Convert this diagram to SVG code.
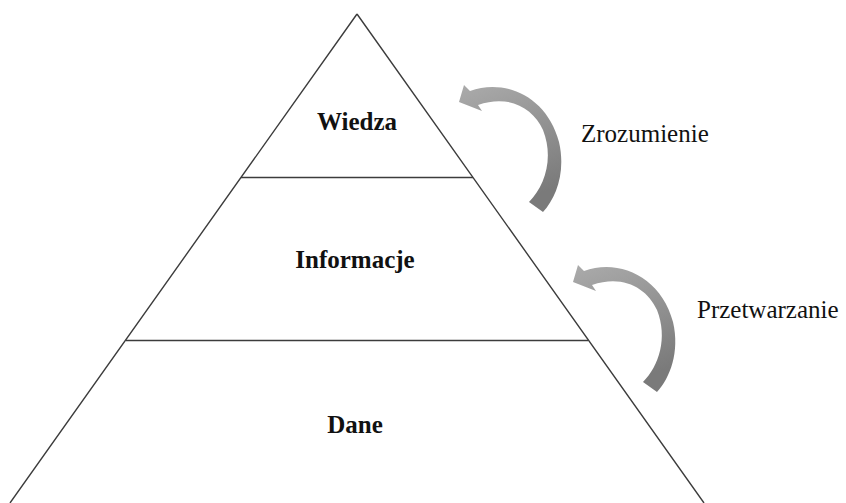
<svg xmlns="http://www.w3.org/2000/svg" width="846" height="503" viewBox="0 0 846 503">
  <style>
    .edge { fill: none; stroke: #3c3c3c; stroke-width: 1.4; }
    .level { font-family: "Liberation Serif", "Times New Roman", serif; font-size: 25px; font-weight: bold; fill: #111; text-anchor: middle; }
    .step { font-family: "Liberation Serif", "Times New Roman", serif; font-size: 25px; fill: #111; }
  </style>
  <defs>
    <linearGradient id="arrowFill" x1="0" y1="0" x2="0.3" y2="1">
      <stop offset="0" stop-color="#ababab"/>
      <stop offset="1" stop-color="#7a7a7a"/>
    </linearGradient>
    <!-- curved block arrow, tip at the origin -->
    <path id="curl" fill="url(#arrowFill)"
      d="M 0,0 L 5,-17 L 11,-11 C 45,-24 88,-6 100,40 C 107,70 97,96 84,110 L 70,100 C 86,84 95,56 84,28 C 74,6 50,-8 19,3 L 23,9 Z"/>
  </defs>

  <g id="pyramid">
    <path class="edge" d="M 357,14 L 10,503 M 357,14 L 704,503"/>
  </g>

  <g id="wiedza">
    <line class="edge" x1="241" y1="177.5" x2="473" y2="177.5"/>
    <text class="level" x="357" y="130">Wiedza</text>
  </g>

  <g id="informacje">
    <line class="edge" x1="126" y1="340.5" x2="588" y2="340.5"/>
    <text class="level" x="355" y="268">Informacje</text>
  </g>

  <g id="dane">
    <text class="level" x="355" y="433">Dane</text>
  </g>

  <g id="connectors">
    <use href="#curl" x="459" y="102"/>
    <use href="#curl" x="573" y="282"/>
  </g>

  <g id="zrozumienie">
    <text class="step" x="581" y="142">Zrozumienie</text>
  </g>

  <g id="przetwarzanie">
    <text class="step" x="697" y="318">Przetwarzanie</text>
  </g>
</svg>
